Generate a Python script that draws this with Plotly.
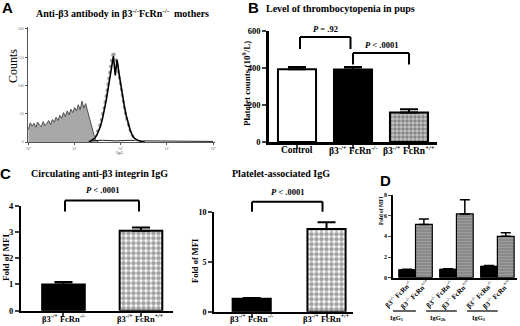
import plotly.graph_objects as go

W, H = 520, 326
SERIF = "Liberation Serif"
SANS = "Liberation Sans"

# ---------------- Panel A data (flow histogram, x in log10 IgG) ----------------
a_gray_log = [0.00, 0.04, 0.08, 0.12, 0.16, 0.20, 0.24, 0.28, 0.32, 0.36, 0.40, 0.44,
              0.48, 0.52, 0.56, 0.60, 0.64, 0.68, 0.72, 0.76, 0.80, 0.84, 0.88, 0.92,
              0.96, 1.00, 1.04, 1.08, 1.12, 1.16, 1.20, 1.24, 1.28, 1.32, 1.36, 1.40,
              1.44, 1.48, 1.52]
a_gray_counts = [22, 34, 28, 33, 26, 35, 30, 27, 36, 29, 33, 38,
                 31, 40, 35, 44, 38, 47, 42, 52, 45, 55, 48, 58,
                 52, 61, 55, 66, 57, 72, 60, 68, 55, 42, 28, 15,
                 6, 2, 0]
a_peak_log = [1.32, 1.36, 1.40, 1.44, 1.48, 1.52, 1.56, 1.60, 1.64, 1.68, 1.72, 1.76,
              1.80, 1.84, 1.88, 1.92, 1.96, 2.00, 2.04, 2.08, 2.12, 2.16, 2.20, 2.24,
              2.28, 2.32, 2.36, 2.40, 2.44, 2.48, 2.52]
a_peak_black = [0, 2, 4, 7, 12, 19, 28, 40, 55, 72, 92, 112,
                132, 152, 118, 146, 122, 100, 80, 62, 46, 33, 22, 14,
                8, 5, 3, 2, 1, 1, 0]
a_peak_dotted = [1, 3, 6, 10, 16, 24, 34, 47, 63, 82, 104, 126,
                 146, 160, 150, 138, 118, 96, 76, 58, 42, 30, 20, 12,
                 7, 4, 3, 2, 1, 1, 0]
a_base_log = [1.30, 1.60, 1.90, 2.20, 2.50, 2.80, 3.10, 3.40, 3.70, 4.00]
a_base_counts = [2, 3, 2, 3, 2, 2, 1, 2, 1, 1]
a_xtick_vals = [0, 1, 2, 3, 4]
a_xtick_text = ["10<sup>0</sup>", "10<sup>1</sup>", "10<sup>2</sup>", "10<sup>3</sup>", "10<sup>4</sup>"]
a_ytick_vals = [0, 50, 100, 150, 200]

# ---------------- Panel B data ----------------
b_categories = ["Control", "β3<sup>-/+</sup> FcRn<sup>-/-</sup>", "β3<sup>-/+</sup> FcRn<sup>+/+</sup>"]
b_values = [393, 392, 160]
b_errors = [13, 14, 17]
b_yticks = [0, 200, 400, 600]

# ---------------- Panel C data ----------------
c_categories = ["β3<sup>-/+</sup> FcRn<sup>-/-</sup>", "β3<sup>-/+</sup> FcRn<sup>+/+</sup>"]
c1_values = [1.0, 3.05]
c1_errors = [0.09, 0.12]
c1_yticks = [0, 1, 2, 3, 4]
c2_values = [1.3, 8.27]
c2_errors = [0.08, 0.68]
c2_yticks = [0, 5, 10]

# ---------------- Panel D data ----------------
d_groups = ["IgG<sub>1</sub>", "IgG<sub>2b</sub>", "IgG<sub>3</sub>"]
d_ko_label = "β3<sup>-/-</sup> FcRn<sup>-/-</sup>"
d_wt_label = "β3<sup>-/-</sup> FcRn<sup>+/+</sup>"
d_ko_values = [0.78, 0.83, 1.12]
d_ko_errors = [0.04, 0.04, 0.05]
d_wt_values = [5.15, 6.17, 4.0]
d_wt_errors = [0.52, 1.38, 0.35]
d_yticks = [0, 2, 4, 6, 8]


def px(x):
    return x / W


def py(y):
    return 1 - y / H


def err(arr, width, thick=2):
    return dict(type="data", array=arr, arrayminus=[0] * len(arr), symmetric=False,
                color="black", thickness=thick, width=width)


fig = go.Figure()

# ---- A ----
fig.add_trace(go.Scatter(x=a_gray_log, y=a_gray_counts, mode="lines", fill="tozeroy",
                         fillcolor="#a8a8a8", line=dict(color="#505050", width=1),
                         xaxis="x", yaxis="y"))
fig.add_trace(go.Scatter(x=a_base_log, y=a_base_counts, mode="lines",
                         line=dict(color="#202020", width=1), xaxis="x", yaxis="y"))
fig.add_trace(go.Scatter(x=a_peak_log, y=a_peak_dotted, mode="lines",
                         line=dict(color="#9a9a9a", width=2.5, dash="dot"), xaxis="x", yaxis="y"))
fig.add_trace(go.Scatter(x=a_peak_log, y=a_peak_black, mode="lines",
                         line=dict(color="black", width=1.6), xaxis="x", yaxis="y"))

# ---- B ----
fig.add_trace(go.Bar(x=b_categories, y=b_values, width=0.68, xaxis="x2", yaxis="y2",
                     marker=dict(color=["white", "black", "#c6c6c6"],
                                 line=dict(color="black", width=2),
                                 pattern=dict(shape=["", "", "."], fillmode="overlay",
                                              fgcolor="#262626", size=4, solidity=0.6)),
                     error_y=err(b_errors, 9, 2)))

# ---- C1 ----
fig.add_trace(go.Bar(x=c_categories, y=c1_values, width=0.55, xaxis="x3", yaxis="y3",
                     marker=dict(color=["black", "white"], line=dict(color="black", width=2),
                                 pattern=dict(shape=["", "."], fillmode="overlay",
                                              fgcolor="black", size=5, solidity=0.65)),
                     error_y=err(c1_errors, 9, 2)))
# ---- C2 ----
fig.add_trace(go.Bar(x=c_categories, y=c2_values, width=0.51, xaxis="x4", yaxis="y4",
                     marker=dict(color=["black", "white"], line=dict(color="black", width=2),
                                 pattern=dict(shape=["", "."], fillmode="overlay",
                                              fgcolor="black", size=5, solidity=0.65)),
                     error_y=err(c2_errors, 9, 2)))

# ---- D ----
fig.add_trace(go.Bar(x=d_groups, y=d_ko_values, xaxis="x5", yaxis="y5",
                     marker=dict(color="black", line=dict(color="black", width=1)),
                     error_y=err(d_ko_errors, 5, 1.5)))
fig.add_trace(go.Bar(x=d_groups, y=d_wt_values, xaxis="x5", yaxis="y5",
                     marker=dict(color="#8a8a8a", line=dict(color="black", width=1.2),
                                 pattern=dict(shape="-", fillmode="overlay", fgcolor="#b0b0b0",
                                              size=3, solidity=0.35)),
                     error_y=err(d_wt_errors, 5, 1.5)))

bold_tick = dict(family=SERIF, size=8.5, color="black", weight="bold")
common = dict(showgrid=False, zeroline=False, automargin=False, showline=True)

fig.update_layout(
    template="none",
    width=W, height=H, margin=dict(l=0, r=0, t=0, b=0, pad=0),
    paper_bgcolor="white", plot_bgcolor="white", showlegend=False,
    barmode="group", bargap=0.18, bargroupgap=0,
    xaxis=dict(domain=[px(27.5), px(215)], range=[-0.02, 4.04], anchor="y", **common,
               linecolor="#555", linewidth=1,
               tickvals=a_xtick_vals, ticktext=a_xtick_text, ticks="outside", ticklen=2,
               tickcolor="#555", tickfont=dict(family=SERIF, size=4, color="#777")),
    yaxis=dict(domain=[py(142), py(27)], range=[0, 203.5], anchor="x", **common,
               linecolor="#555", linewidth=1,
               tickvals=a_ytick_vals, ticks="outside", ticklen=2, tickcolor="#555",
               tickfont=dict(family=SERIF, size=4, color="#777")),
    xaxis2=dict(domain=[px(269), px(437)], range=[-0.5, 2.5], anchor="y2", type="category", **common,
                linecolor="black", linewidth=2.5, showticklabels=False,
                ticks="outside", ticklen=4, tickwidth=2),
    yaxis2=dict(domain=[py(142), py(31)], range=[0, 600], anchor="x2", **common,
                linecolor="black", linewidth=2.5,
                tickvals=b_yticks, ticks="outside", ticklen=4, tickwidth=2, tickfont=bold_tick),
    xaxis3=dict(domain=[px(21), px(173)], range=[-0.548, 1.413], anchor="y3", type="category", **common,
                linecolor="black", linewidth=2, showticklabels=False,
                ticks="outside", ticklen=4, tickwidth=1.5),
    yaxis3=dict(domain=[py(310.7), py(205.7)], range=[0, 4], anchor="x3", **common,
                linecolor="black", linewidth=2,
                tickvals=c1_yticks, ticks="outside", ticklen=4, tickwidth=2, tickfont=bold_tick),
    xaxis4=dict(domain=[px(214), px(353)], range=[-0.504, 1.354], anchor="y4", type="category", **common,
                linecolor="black", linewidth=2, showticklabels=False,
                ticks="outside", ticklen=4, tickwidth=1.5),
    yaxis4=dict(domain=[py(311.7), py(211.7)], range=[0, 10], anchor="x4", **common,
                linecolor="black", linewidth=2,
                tickvals=c2_yticks, ticks="outside", ticklen=4, tickwidth=2,
                tickfont=dict(family=SERIF, size=8, color="black", weight="bold")),
    xaxis5=dict(domain=[px(393), px(517)], range=[-0.55, 2.48], anchor="y5", type="category", **common,
                linecolor="black", linewidth=1.5, showticklabels=False, ticks=""),
    yaxis5=dict(domain=[py(277.7), py(195)], range=[0, 8], anchor="x5", **common,
                linecolor="black", linewidth=1.5,
                tickvals=d_yticks, ticks="outside", ticklen=3, tickwidth=1.2,
                tickfont=dict(family=SERIF, size=6, color="black", weight="bold")),
)

ann = []
shapes = []


def text(x, y, t, size=10, bold=True, family=SERIF, angle=0, color="black", xref="paper", xshift=0):
    ann.append(dict(x=x if xref != "paper" else px(x), y=py(y), xref=xref, yref="paper", text=t,
                    showarrow=False, textangle=angle, xanchor="center", yanchor="middle", xshift=xshift,
                    font=dict(family=family, size=size, color=color, weight="bold" if bold else "normal")))


def line(x0, y0, x1, y1, w=2, xref="paper", color="black"):
    shapes.append(dict(type="line", xref=xref, yref="paper",
                       x0=x0 if xref != "paper" else px(x0), x1=x1 if xref != "paper" else px(x1),
                       y0=py(y0), y1=py(y1), line=dict(color=color, width=w)))


def bracket(xl, xr, ytop, ybot, label, ty):
    line(xl, ybot, xl, ytop)
    line(xl, ytop, xr, ytop)
    line(xr, ytop, xr, ybot)
    text((xl + xr) / 2, ty, label, size=8.5)


# panel letters
text(7, 8, "A", size=15, family=SANS)
text(253, 8, "B", size=15, family=SANS)
text(5, 173, "C", size=15, family=SANS)
text(385, 180, "D", size=15, family=SANS)

# titles
text(122, 13, "Anti-β3 antibody in β3<sup>-/-</sup>FcRn<sup>-/-</sup>  mothers", size=10)
text(340, 9, "Level of thrombocytopenia in pups", size=10)
text(99, 173, "Circulating anti-β3 integrin IgG", size=10)
text(281, 173, "Platelet-associated IgG", size=10)

# axis titles
text(13, 66, "Counts", size=12, bold=False, angle=-90)
text(120, 152, "IgG", size=5, bold=False, color="#555")
text(246, 84, "Platelet counts (10<sup>9</sup>/L)", size=9, angle=-90)
text(6, 258, "Fold of MFI", size=9, angle=-90)
text(195, 261, "Fold of MFI", size=8.5, angle=-90)
text(381, 211, "Fold of MFI", size=5.5, angle=-90)

# category labels (B, C)
for i, c in enumerate(b_categories):
    text(i, 150, c, size=9.5, xref="x2")
for i, c in enumerate(c_categories):
    text(i, 318, c, size=8.5, xref="x3")
    text(i, 318, c, size=8.5, xref="x4")

# brackets
bracket(300, 350.5, 37, 49, "<i>P</i> = .92", 29)
bracket(353, 409, 53, 64.5, "<i>P</i> &lt; .0001", 45)
bracket(65, 139, 200.5, 211.5, "<i>P</i> &lt; .0001", 190)
bracket(252, 322.5, 201.7, 211.7, "<i>P</i> &lt; .0001", 192)

# panel D rotated genotype labels and group labels
for i, g in enumerate(d_groups):
    text(i - 0.205, 294, d_ko_label, size=7, angle=-45, xref="x5", xshift=-9)
    text(i + 0.205, 294, d_wt_label, size=7, angle=-45, xref="x5", xshift=-9)
    line(i - 0.74, 311, i + 0.01, 311, w=1.2, xref="x5")
    text(i - 0.46, 317.5, g, size=6.5, xref="x5")

fig.update_layout(annotations=ann, shapes=shapes)
fig.write_html("out.html", config={"displayModeBar": False},
               post_script="document.body.style.margin='0px';")
